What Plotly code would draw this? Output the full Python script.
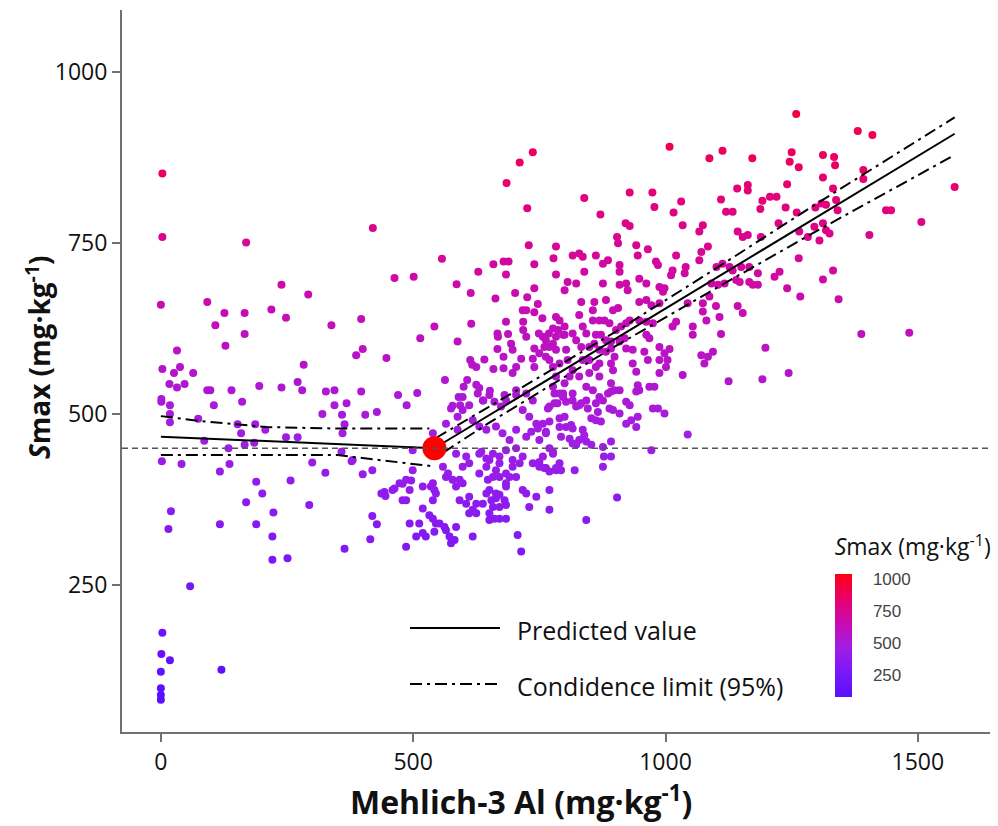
import plotly.graph_objects as go

# ---------------- data (Mehlich-3 Al, Smax) ----------------
pts_left = [
    (3, 852), (3, 759), (169, 751), (420, 772), (0, 660), (92, 664), (126, 648), (166, 648),
    (108, 630), (128, 600), (166, 617), (219, 653), (248, 641), (338, 630), (397, 639), (239, 689),
    (292, 675), (32, 593), (3, 566), (26, 560), (38, 569), (64, 560), (17, 544), (32, 539),
    (47, 544), (92, 535), (98, 535), (140, 535), (195, 541), (239, 539), (271, 547), (280, 535),
    (283, 572), (387, 586), (400, 595), (447, 582), (327, 533), (344, 535), (397, 533), (1, 522),
    (1, 518), (18, 513), (18, 500), (18, 488), (105, 513), (161, 518), (74, 493), (86, 461),
    (152, 485), (159, 472), (166, 455), (134, 450), (187, 485), (185, 458), (207, 477), (248, 466),
    (271, 466), (320, 500), (344, 513), (368, 516), (359, 499), (364, 485), (360, 472), (405, 499),
    (428, 503), (358, 445), (2, 431), (41, 427), (136, 427), (117, 416), (189, 401), (201, 384),
    (257, 403), (300, 429), (326, 414), (378, 431), (400, 412), (419, 418), (169, 371), (223, 356),
    (294, 367), (20, 358), (15, 332), (117, 339), (189, 339), (221, 321), (221, 287), (251, 289),
    (364, 303), (415, 317), (419, 351), (428, 339), (437, 384), (445, 380), (58, 248), (3, 180),
    (1, 149), (18, 140), (0, 123), (0, 99), (0, 89), (0, 82), (120, 126), (380, 433),
]

pts_mid = [
    (463, 699), (501, 701), (557, 727), (586, 690), (614, 677), (629, 708), (659, 719), (663, 669),
    (542, 628), (615, 632), (514, 611), (588, 606), (667, 618), (667, 595), (613, 579), (617, 572),
    (641, 580), (563, 550), (600, 540), (625, 543), (590, 525), (593, 513), (578, 512), (631, 538),
    (652, 534), (639, 520), (659, 566), (470, 528), (487, 513), (508, 531),
    (729, 747), (783, 745), (679, 723), (689, 723), (740, 719), (778, 728), (684, 704), (783, 704),
    (702, 677), (726, 671), (740, 684), (747, 661), (717, 652), (724, 652), (740, 649), (756, 640),
    (783, 642), (684, 635), (718, 635), (668, 613), (688, 617), (718, 623), (724, 613), (749, 618),
    (769, 618), (777, 625), (783, 613), (694, 603), (697, 594), (740, 596), (750, 589), (760, 598),
    (763, 584), (770, 579), (777, 569), (783, 594), (625, 569), (679, 584), (679, 567), (697, 560),
    (704, 569), (714, 581), (737, 581), (740, 569), (607, 550), (681, 528), (704, 535), (598, 525),
    (737, 883), (711, 868), (685, 838), (726, 801), (1008, 891), (839, 816), (929, 824), (974, 824),
    (871, 792), (978, 803), (1031, 811), (1016, 795),
    (921, 779), (929, 775), (1034, 776), (904, 759), (906, 750), (942, 747), (965, 741), (816, 732),
    (829, 735), (836, 730), (862, 732), (886, 725), (876, 720), (945, 732), (1021, 732), (981, 723),
    (985, 718), (909, 718), (909, 708), (1014, 710), (1011, 703), (1040, 715), (1038, 706), (839, 708),
    (806, 693), (823, 691), (800, 681), (876, 691), (909, 689), (922, 691), (925, 681), (948, 698),
    (962, 691), (988, 686), (998, 684), (995, 679), (833, 664), (856, 652), (859, 664), (882, 667),
    (896, 652), (906, 655), (948, 664), (962, 667), (972, 659), (988, 662), (1044, 662), (829, 645),
    (856, 637), (869, 637), (879, 637), (889, 633), (902, 623), (912, 628), (922, 633), (929, 637),
    (948, 637), (962, 635), (975, 633), (787, 623), (797, 616), (836, 628), (843, 618), (862, 616),
    (872, 616), (882, 608), (892, 606), (909, 606), (919, 611), (962, 616), (968, 611), (1014, 628),
    (1021, 635), (757, 613), (763, 608), (770, 598), (777, 603), (790, 637), (800, 628), (800, 616),
    (816, 618), (823, 608), (833, 598), (849, 598), (859, 603), (869, 594), (882, 591), (892, 596),
    (899, 584), (922, 596), (935, 594), (958, 591), (965, 579), (988, 598), (998, 589), (988, 579),
    (1004, 579), (1001, 569), (1034, 557), (803, 594), (806, 579), (790, 574), (836, 579), (849, 579),
    (862, 569), (869, 574), (892, 574), (896, 564), (935, 574), (942, 562), (816, 564), (829, 555),
    (849, 560), (783, 555), (800, 545), (810, 555), (869, 555), (892, 545), (843, 540), (856, 535),
    (886, 530), (909, 535), (945, 542), (968, 540), (978, 540), (797, 530), (816, 530), (777, 540),
    (780, 530), (1008, 595), (988, 560),
    (575, 508), (588, 496), (598, 506), (611, 513), (628, 530), (638, 520), (651, 528), (661, 518),
    (674, 511), (684, 520), (704, 528), (724, 530), (737, 520), (767, 508), (780, 516), (717, 506),
    (730, 496), (744, 486), (565, 486), (588, 477), (618, 491), (631, 482), (645, 477), (664, 482),
    (677, 472), (691, 462), (704, 477), (724, 467), (734, 474), (750, 462), (770, 450), (499, 447),
    (539, 472), (585, 442), (605, 438), (631, 442), (651, 433), (658, 442), (684, 447), (697, 433),
    (717, 438), (737, 428), (757, 438), (777, 442), (783, 418), (559, 423), (565, 408), (578, 404),
    (598, 423), (611, 428), (631, 413), (645, 423), (664, 418), (671, 428), (684, 413), (697, 423),
    (704, 408), (684, 399), (750, 423), (763, 421), (499, 418), (486, 404), (473, 399), (459, 389),
    (443, 386), (519, 394), (535, 394), (542, 389), (585, 394), (598, 399), (611, 379), (592, 374),
    (605, 369), (625, 369), (651, 389), (664, 384), (681, 374), (684, 394), (638, 369), (658, 364),
    (671, 364), (684, 367), (717, 389), (724, 384), (770, 389), (770, 360), (479, 374), (493, 389),
    (519, 362), (532, 352), (539, 347), (545, 340), (493, 340), (512, 340), (519, 326), (506, 321),
    (525, 321), (486, 306), (552, 340), (565, 330), (572, 321), (575, 311), (585, 335), (618, 321),
    (611, 355), (625, 355), (651, 345), (671, 347), (684, 347), (707, 323), (714, 299), (730, 364),
    (744, 379),
    (790, 530), (797, 525), (770, 511), (786, 516), (816, 520), (823, 511), (833, 516), (846, 508),
    (843, 520), (862, 516), (869, 525), (876, 520), (866, 503), (889, 508), (892, 533), (899, 535),
    (922, 518), (929, 513), (942, 533), (948, 535), (975, 508), (985, 508), (998, 501), (922, 486),
    (932, 491), (945, 496), (942, 481), (1044, 470), (757, 486), (770, 489), (790, 494), (800, 496),
    (763, 474), (790, 481), (803, 481), (813, 484), (836, 477), (839, 469), (793, 467), (810, 464),
    (816, 457), (823, 455), (853, 455), (876, 452), (892, 460), (777, 445), (892, 438), (876, 423),
    (972, 447), (750, 430), (760, 421), (783, 421), (790, 428), (793, 418), (820, 418), (843, 345),
    (904, 378),
    (463, 391), (479, 398), (496, 403), (486, 374), (542, 328), (582, 316), (562, 335), (569, 413),
    (592, 404), (539, 399), (539, 374), (545, 384), (618, 360), (645, 384), (655, 374), (878, 438),
    (770, 416), (651, 355), (661, 347), (664, 377), (671, 382), (648, 404), (658, 408), (671, 408),
    (691, 408), (711, 428), (635, 445), (645, 435), (671, 438), (704, 450), (747, 479), (763, 472),
    (829, 462), (843, 460), (816, 479), (853, 494), (862, 491), (872, 489), (803, 518), (829, 513),
    (896, 506), (909, 501),
]

pts_right = [
    (1259, 939), (1381, 914), (1410, 908), (1087, 874), (1113, 885), (1172, 874), (1250, 883),
    (1246, 869), (1264, 861), (1312, 879), (1334, 876), (1336, 864), (1312, 846), (1392, 857),
    (1392, 844), (1573, 832), (1142, 830), (1163, 835), (1163, 827), (1241, 836), (1332, 830),
    (1338, 813), (1110, 814), (1192, 812), (1207, 818), (1220, 818), (1188, 800), (1238, 802),
    (1120, 796), (1133, 796), (1260, 795), (1297, 802), (1309, 808), (1318, 806), (1341, 798),
    (1437, 798), (1447, 798), (1507, 781), (1404, 762), (1074, 776), (1067, 767), (1143, 767),
    (1153, 759), (1163, 762), (1189, 759), (1224, 779), (1265, 767), (1282, 759), (1295, 774),
    (1312, 779), (1318, 769), (1325, 764), (1305, 754), (1084, 745), (1071, 737), (1067, 725),
    (1101, 715), (1113, 720), (1127, 715), (1133, 710), (1183, 706), (1166, 715), (1150, 715),
    (1216, 701), (1226, 708), (1264, 728), (1332, 710), (1312, 697), (1091, 691), (1104, 689),
    (1117, 691), (1140, 696), (1147, 693), (1166, 693), (1173, 689), (1183, 689), (1241, 684),
    (1267, 672), (1343, 668), (1087, 672), (1100, 658), (1107, 642), (1074, 650), (1081, 637),
    (1143, 658), (1153, 648), (1110, 617), (1388, 617), (1483, 619), (1198, 597), (1071, 586),
    (1084, 584), (1094, 591), (1077, 574), (1125, 548), (1192, 551), (1244, 560), (1054, 616),
    (1054, 628), (1074, 662),
]

# breakpoint / plateau
break_al = 542
plateau = 450

# fitted (predicted) segmented line
pred_left_x = [0, 542]
pred_left_y = [467, 450]
pred_right_x = [542, 1573]
pred_right_y = [450, 910]

# 95 % confidence limits
ci_left_up_x = [0, 76, 208, 339, 532]
ci_left_up_y = [497, 490, 481, 479, 479]
ci_left_lo_x = [0, 350, 535]
ci_left_lo_y = [440, 440, 424]
ci_right_up_x = [545, 650, 750, 900, 1100, 1300, 1573]
ci_right_up_y = [465, 510, 554, 620, 713, 808, 934]
ci_right_lo_x = [560, 650, 750, 900, 1100, 1300, 1573]
ci_right_lo_y = [444, 487, 532, 599, 684, 768, 879]

x_ticks = [0, 500, 1000, 1500]
y_ticks = [250, 500, 750, 1000]
cb_ticks = [250, 500, 750, 1000]

# ---------------- figure ----------------
all_pts = pts_left + pts_mid + pts_right
al = [p[0] for p in all_pts]
smax = [p[1] for p in all_pts]

colorscale = [
    [0.0, "#5A10FF"],
    [0.2, "#7A18F8"],
    [0.4, "#A01EE4"],
    [0.6, "#C80CB2"],
    [0.8, "#E8006C"],
    [1.0, "#FF0010"],
]

FONT = "Open Sans"
fig = go.Figure()

fig.add_trace(go.Scatter(
    x=al, y=smax, mode="markers", showlegend=False, hoverinfo="x+y",
    marker=dict(
        size=8, color=smax, colorscale=colorscale, cmin=82, cmax=1041,
        line=dict(width=0),
        colorbar=dict(
            title=dict(text="<i>S</i>max (mg·kg<sup>-1</sup>)", side="top",
                       font=dict(family=FONT, size=23, color="#111")),
            x=0.821, xanchor="left", xref="paper",
            y=0.0346, yanchor="bottom", yref="paper",
            ypad=10, xpad=0,
            thickness=17, thicknessmode="pixels",
            len=182, lenmode="pixels",
            outlinewidth=0,
            tickvals=cb_ticks,
            ticks="outside", ticklen=18, tickcolor="rgba(0,0,0,0)",
            tickfont=dict(family="Liberation Sans", size=17, color="#444"),
        ),
    ),
))

line_style = dict(color="black", width=2)
ci_style = dict(color="black", width=2, dash="12px,5px,3px,5px")

for xs, ys in [(pred_left_x, pred_left_y), (pred_right_x, pred_right_y)]:
    fig.add_trace(go.Scatter(x=xs, y=ys, mode="lines", line=line_style,
                             showlegend=False, hoverinfo="skip"))
for xs, ys in [(ci_left_up_x, ci_left_up_y), (ci_left_lo_x, ci_left_lo_y),
               (ci_right_up_x, ci_right_up_y), (ci_right_lo_x, ci_right_lo_y)]:
    fig.add_trace(go.Scatter(x=xs, y=ys, mode="lines", line=ci_style,
                             showlegend=False, hoverinfo="skip"))

fig.add_trace(go.Scatter(x=[break_al], y=[plateau], mode="markers",
                         marker=dict(size=24, color="#FF0000", line=dict(width=0)),
                         showlegend=False))

# plateau reference line
fig.add_shape(type="line", xref="paper", x0=0, x1=1, yref="y", y0=plateau, y1=plateau,
              line=dict(color="#555555", width=1.5, dash="6px,4px"), layer="above")

# legend (drawn manually)
fig.add_shape(type="line", xref="paper", yref="paper", x0=0.3318, x1=0.4355, y0=0.144, y1=0.144,
              line=dict(color="black", width=2))
fig.add_shape(type="line", xref="paper", yref="paper", x0=0.3318, x1=0.4355, y0=0.0665, y1=0.0665,
              line=dict(color="black", width=2, dash="12px,5px,3px,5px"))
fig.add_annotation(text="Predicted value", xref="paper", yref="paper", x=0.453, y=0.141,
                   xanchor="left", yanchor="middle", showarrow=False,
                   font=dict(family=FONT, size=25, color="#111"))
fig.add_annotation(text="Condidence limit (95%)", xref="paper", yref="paper", x=0.453, y=0.064,
                   xanchor="left", yanchor="middle", showarrow=False,
                   font=dict(family=FONT, size=25, color="#111"))

# axis titles
fig.add_annotation(text="<b>Mehlich-3 Al (mg·kg<sup>-1</sup>)</b>", xref="paper", yref="paper",
                   x=0.46, y=-0.094, xanchor="center", yanchor="middle", showarrow=False,
                   font=dict(family=FONT, size=32, color="#111"))
fig.add_annotation(text="<b><i>S</i>max (mg·kg<sup>-1</sup>)</b>", xref="paper", yref="paper",
                   x=-0.097, y=0.519, xanchor="center", yanchor="middle", showarrow=False,
                   textangle=-90, font=dict(family=FONT, size=28, color="#111"))

axis_common = dict(showline=True, linecolor="#707070", linewidth=2, ticks="outside",
                   ticklen=8, tickwidth=1.5, tickcolor="#707070", showgrid=False,
                   zeroline=False, tickfont=dict(family=FONT, size=23, color="#111"))

fig.update_xaxes(range=[-77, 1643], tickvals=x_ticks, **axis_common)
fig.update_yaxes(range=[35, 1091], tickvals=y_ticks, **axis_common)

fig.update_layout(
    width=998, height=826,
    margin=dict(l=122, r=8, t=10, b=94),
    paper_bgcolor="white", plot_bgcolor="white",
    font=dict(family=FONT),
)

fig.write_html("out.html")
